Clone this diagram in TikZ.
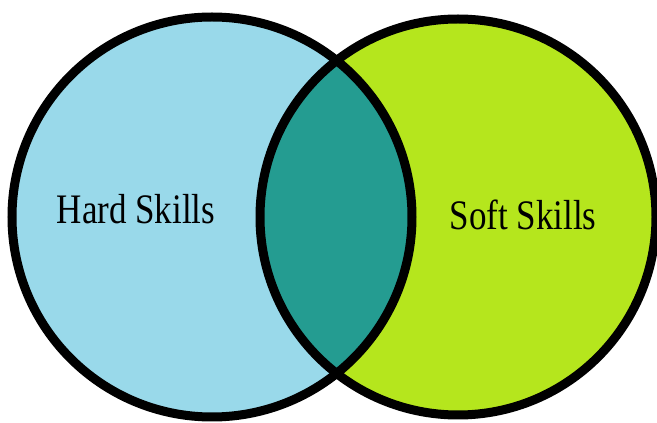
\documentclass[tikz,border=0pt]{standalone}
\usepackage{fontspec}
\setmainfont{Liberation Serif}
\definecolor{hardblue}{HTML}{99D9EA}
\definecolor{softlime}{HTML}{B5E61D}
\definecolor{lensteal}{HTML}{249C91}
\begin{document}
\begin{tikzpicture}[x=1pt,y=1pt,
  setcircle/.style={circle,inner sep=0pt,draw=none},
  outline/.style={draw=black,line width=9pt},
  setlabel/.style={font=\fontsize{35}{40}\selectfont,yscale=1.2,transform shape,inner sep=0pt,text=black}]
\useasboundingbox (0,0) rectangle (657,423);
\clip (0,0) rectangle (657,423);
\node[setcircle,minimum size=400pt,fill=hardblue] (hard) at (212,206) {};
\node[setcircle,minimum size=396pt,fill=softlime] (soft) at (458,206) {};
\begin{scope}
  \clip (hard.center) circle (200);
  \fill[lensteal] (soft.center) circle (198);
\end{scope}
\draw[outline] (hard.center) circle (200);
\draw[outline] (soft.center) circle (198);
\node[setlabel] (hardlabel) at (136,214) {Hard Skills};
\node[setlabel] (softlabel) at (523,208) {Soft Skills};
\end{tikzpicture}
\end{document}
